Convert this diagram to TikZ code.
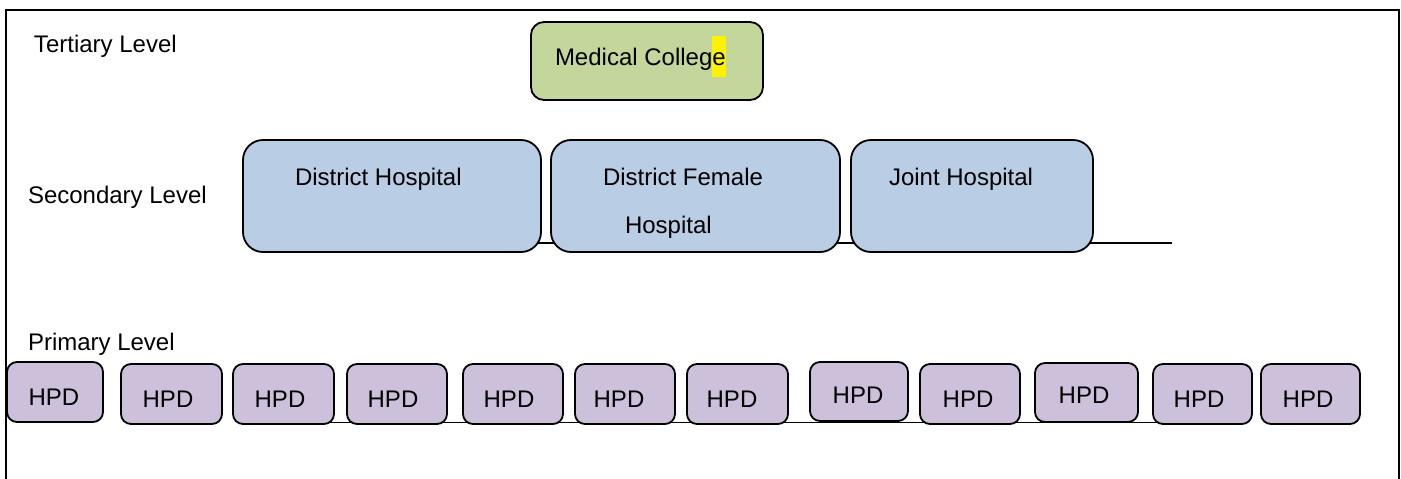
\documentclass[tikz,border=0pt]{standalone}
\usepackage{fontspec}
\setmainfont{Liberation Sans}
\usetikzlibrary{backgrounds}
\definecolor{tertfill}{HTML}{C3D69B}
\definecolor{secfill}{HTML}{B9CDE5}
\definecolor{primfill}{HTML}{CCC0DA}
% yellow text highlight, taller than the line itself
\newcommand{\hlmark}[1]{{\setlength{\fboxsep}{0pt}\colorbox{yellow}{\rule[-12pt]{0pt}{41pt}#1}}}

\begin{document}
\begin{tikzpicture}[x=1pt,y=-1pt,
  every node/.style={font=\fontsize{24}{28}\selectfont, inner sep=0pt, outer sep=0pt},
  box/.style={draw=black, line width=1.8pt, rectangle},
  tertbox/.style={box, fill=tertfill, rounded corners=13pt},
  secbox/.style={box, fill=secfill, rounded corners=20pt},
  hpdbox/.style={box, fill=primfill, rounded corners=10pt},
  lbl/.style={anchor=base west},
  link/.style={draw=black, line width=1.5pt}]
\useasboundingbox (0,0) rectangle (1401,479);

% open frame
\draw[line width=2pt] (6,479) -- (6,10) -- (1399,10) -- (1399,479);

% level captions
\node[lbl] (tert) at (34,52) {Tertiary Level};
\node[lbl] (sec) at (28,203) {Secondary Level};
\node[lbl] (prim) at (28,350) {Primary Level};

% tertiary level
\node[tertbox, minimum width=232pt, minimum height=78pt] (mc) at (647,61) {};
\node[lbl] at (555,65) {Medical Colleg\hlmark{e}};

% secondary level
\node[secbox, minimum width=298pt, minimum height=112pt] (dh) at (392,196) {};
\node[secbox, minimum width=289pt, minimum height=112pt] (df) at (695.5,196) {};
\node[secbox, minimum width=242pt, minimum height=112pt] (jh) at (972,196) {};
\node[lbl] at (295,185) {District Hospital};
\node[lbl] at (603,185) {District Female};
\node[lbl] at (625,233) {Hospital};
\node[lbl] at (889,185) {Joint Hospital};
\coordinate (secend) at (1172,243);

% primary level
\foreach \n/\cx/\w/\cy/\h/\tx/\ty in {
  1/55/96/392/60/54/405,
  2/171.5/101/394/60/168/407,
  3/283.5/101/394/60/280/407,
  4/397/100/394/60/393/407,
  5/513/100/394/60/509/407,
  6/625/100/394/60/619/407,
  7/737.5/101/394/60/732/407,
  8/859/98/391.5/59/858/403,
  9/970/100/394/60/968/407,
  10/1086.5/103/392.5/59/1084/403,
  11/1202.5/99/394/60/1199/407,
  12/1310.5/99/394/60/1308/407}{
  \node[hpdbox, minimum width=\w pt, minimum height=\h pt] (h\n) at (\cx,\cy) {};
  \node[anchor=base] at (\tx,\ty) {HPD};
}
\coordinate (primline) at (0,422.5);

% base lines running behind the boxes
\begin{scope}[on background layer]
  \draw[link] (dh.center |- secend) -- (secend);
  \draw[link] (h3.center |- primline) -- (h11.center |- primline);
\end{scope}
\end{tikzpicture}
\end{document}
